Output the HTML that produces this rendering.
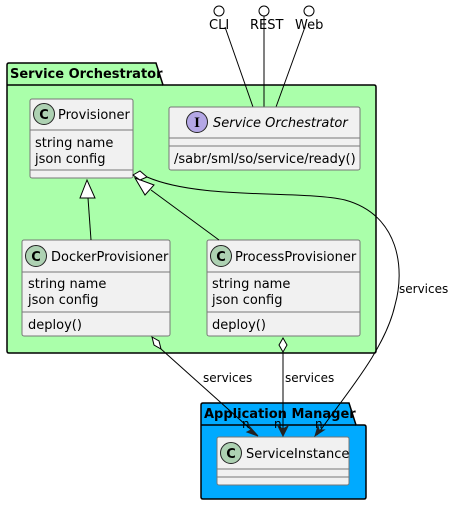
<!DOCTYPE html>
<html><head><meta charset="utf-8"><style>body{margin:0;background:#fff}svg{display:block}text{font-family:"DejaVu Sans","Liberation Sans",sans-serif;font-size:13px;fill:#000}</style></head><body>
<svg width="452" height="507" viewBox="0 0 452 507">
<path d="M7,85 L7,65 Q7,63 9,63 L156,63 L163,85 L374,85 Q376,85 376,87 L376,351 Q376,353 374,353 L9,353 Q7,353 7,351 Z" fill="#aaffaa" stroke="#000" stroke-width="1.5"/>
<line x1="7" y1="85" x2="163" y2="85" stroke="#000" stroke-width="1.5"/>
<text x="10" y="78" style="font-weight:bold;font-size:13px">Service Orchestrator</text>
<path d="M201,425 L201,405 Q201,403 203,403 L349,403 L356,425 L364,425 Q366,425 366,427 L366,497 Q366,499 364,499 L203,499 Q201,499 201,497 Z" fill="#00aaff" stroke="#000" stroke-width="1.5"/>
<line x1="201" y1="425" x2="356" y2="425" stroke="#000" stroke-width="1.5"/>
<text x="204" y="418" style="font-weight:bold;font-size:13px">Application Manager</text>
<g stroke="#000" fill="#fff" stroke-width="1">
<circle cx="219" cy="11" r="5"/><circle cx="264" cy="11" r="5"/><circle cx="309" cy="11" r="5"/>
<line x1="225" y1="27" x2="253" y2="107"/><line x1="264" y1="16" x2="264" y2="107"/><line x1="305" y1="27" x2="276" y2="107"/>
</g>
<text x="209" y="29">CLI</text><text x="250" y="29">REST</text><text x="295" y="29">Web</text>
<g stroke="#777" fill="#f1f1f1" stroke-width="1">
<rect x="30" y="99" width="103" height="79" rx="2"/>
<line x1="30" y1="130" x2="133" y2="130"/><line x1="30" y1="170" x2="133" y2="170"/>
<rect x="169" y="107" width="191" height="63" rx="2"/>
<line x1="169" y1="138" x2="360" y2="138"/><line x1="169" y1="146" x2="360" y2="146"/>
<rect x="22" y="240" width="148" height="96" rx="2"/>
<line x1="22" y1="272" x2="170" y2="272"/><line x1="22" y1="312" x2="170" y2="312"/>
<rect x="207" y="240" width="153" height="96" rx="2"/>
<line x1="207" y1="272" x2="360" y2="272"/><line x1="207" y1="312" x2="360" y2="312"/>
<rect x="217" y="437" width="132" height="48" rx="2"/>
<line x1="217" y1="469" x2="349" y2="469"/><line x1="217" y1="477" x2="349" y2="477"/>
</g>
<g stroke="#222" stroke-width="1">
<circle cx="44" cy="114" r="10.5" fill="#add1b2"/>
<circle cx="197" cy="122" r="10.5" fill="#b4a7e5"/>
<circle cx="36" cy="256" r="10.5" fill="#add1b2"/>
<circle cx="221" cy="256" r="10.5" fill="#add1b2"/>
<circle cx="231" cy="453" r="10.5" fill="#add1b2"/>
</g>
<g style="font-weight:bold;font-size:14px" text-anchor="middle">
<text x="44" y="119">C</text><text x="197" y="127" style="font-family:'Liberation Serif',serif;font-weight:bold;font-size:15px">I</text><text x="36" y="261">C</text><text x="221" y="261">C</text><text x="231" y="458">C</text>
</g>
<text x="58" y="119">Provisioner</text>
<text x="35" y="147">string name</text><text x="35" y="163">json config</text>
<text x="213" y="127" style="font-style:italic">Service Orchestrator</text>
<text x="174" y="163">/sabr/sml/so/service/ready()</text>
<text x="51" y="261">DockerProvisioner</text>
<text x="28" y="288">string name</text><text x="28" y="304">json config</text><text x="28" y="329">deploy()</text>
<text x="235" y="261">ProcessProvisioner</text>
<text x="212" y="288">string name</text><text x="212" y="304">json config</text><text x="212" y="329">deploy()</text>
<text x="246" y="458">ServiceInstance</text>
<g stroke="#000" stroke-width="1" fill="none">
<line x1="91" y1="240" x2="88" y2="198"/>
<path d="M87,180 L80,198 L95,198 Z" fill="#fff"/>
<line x1="219" y1="240" x2="151" y2="190"/>
<path d="M135,178 L145,195 L154,185 Z" fill="#fff"/>
<path d="M133,175 L140,171 L147,177 L140,180 Z" fill="#fff"/>
<path d="M147,177 C200,200 300,190 345,200 C400,215 405,270 395,305 C385,350 345,395 317,435"/>
<path d="M152,337 L159,341 L161,349 L154,345 Z" fill="#fff"/>
<line x1="161" y1="349" x2="257" y2="435"/>
<path d="M283,338 L287,345 L283,352 L279,345 Z" fill="#fff"/>
<line x1="283" y1="352" x2="283" y2="435"/>
</g>
<g fill="#222" stroke="#222" stroke-width="1">
<path d="M258,436 L247,432 L251,430 L249,426 Z"/>
<path d="M283,436 L278,426 L283,429 L288,426 Z"/>
<path d="M315,436 L318,426 L319,430 L324,430 Z"/>
</g>
<text x="203" y="382" style="font-size:12px">services</text>
<text x="285" y="382" style="font-size:12px">services</text>
<text x="399" y="293" style="font-size:12px">services</text>
<text x="242" y="428" style="font-size:12px">n</text><text x="274" y="428" style="font-size:12px">n</text><text x="315" y="428" style="font-size:12px">n</text>
</svg>
</body></html>
